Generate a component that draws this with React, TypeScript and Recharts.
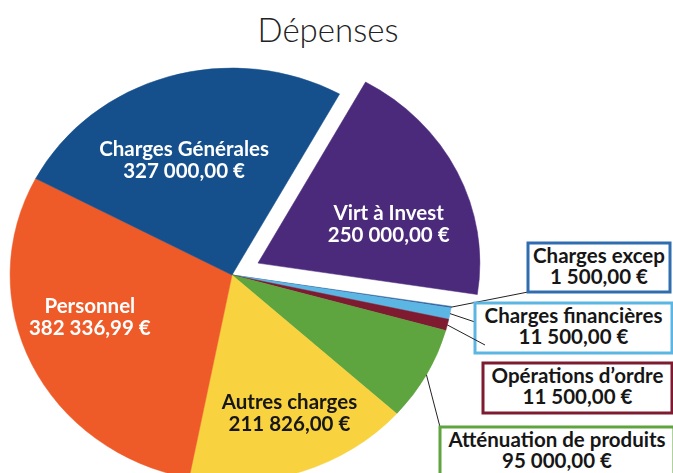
import React from 'react';
import { PieChart, Pie, Cell } from 'recharts';

const categories = [
  'Virt à Invest',
  'Charges excep',
  'Charges financières',
  'Opérations d’ordre',
  'Atténuation de produits',
  'Autres charges',
  'Personnel',
  'Charges Générales',
];
const values = [250000, 1500, 11500, 11500, 95000, 211826, 382336.99, 327000];
const colors = ['#4b2a7c', '#2d5c9a', '#5cb6e4', '#7e1b30', '#5ea43f', '#f8d23f', '#ef5a29', '#15508d'];
const boxColors = ['', '#2f6cb0', '#5cb6e4', '#7e1b30', '#5ea43f'];

const W = 673;
const H = 473;
const CX = 232;
const CY = 275;
const R = 207;
const SX = 1.072; // horizontal stretch of the reference pie
const START = 61;
const EXPLODE = 27;
const RAD = Math.PI / 180;

const fmt = (v: number) => {
  const [i, d] = v.toFixed(2).split('.');
  return i.replace(/\B(?=(\d{3})+(?!\d))/g, ' ') + ',' + d + ' €';
};

const data = categories.map((name, i) => ({ name, value: values[i] }));
const total = values.reduce((a, b) => a + b, 0);
const virtMid = START - (360 * values[0]) / total / 2;
const CX2 = CX + EXPLODE * Math.cos(virtMid * RAD);
const CY2 = CY - EXPLODE * Math.sin(virtMid * RAD);

const FONT = 'Lato, "Open Sans", sans-serif';

const inside: Record<number, { r: number; dA: number; color: string }> = {
  0: { r: 0.62, dA: -8, color: '#ffffff' },
  5: { r: 0.71, dA: 3, color: '#161616' },
  6: { r: 0.67, dA: -8.5, color: '#ffffff' },
  7: { r: 0.60, dA: 4.5, color: '#ffffff' },
};

const boxes: Record<number, { x: number; y: number; w: number; h: number; ax: number; ay: number }> = {
  1: { x: 528, y: 243, w: 142, h: 49, ax: 528, ay: 292 },
  2: { x: 475, y: 303, w: 197, h: 50, ax: 475, ay: 322 },
  3: { x: 483, y: 363, w: 189, h: 50, ax: 485, ay: 345 },
  4: { x: 440, y: 427, w: 234, h: 60, ax: 440, ay: 427 },
};

// convert pie (svg) coords to screen coords (container is scaled horizontally around CX)
const toScreenX = (x: number) => CX + SX * (x - CX);

const renderLabel = (only: number | null) => (props: any) => {
  const { cx, cy, midAngle, outerRadius, index } = props;
  if (only !== null && index !== only) return null;
  if (only === null && index === 0) return null;
  const name = categories[index];
  const val = fmt(values[index]);
  const unscale = `translate(${CX},0) scale(${1 / SX},1) translate(${-CX},0)`;
  const ins = inside[index];
  if (ins) {
    const a = (midAngle + ins.dA) * RAD;
    const x = toScreenX(cx + outerRadius * ins.r * Math.cos(a));
    const y = cy - outerRadius * ins.r * Math.sin(a);
    return (
      <g key={'l' + index} transform={unscale}>
        <text x={x} y={y - 11} textAnchor="middle" dominantBaseline="central" fill={ins.color}
          fontFamily={FONT} fontWeight={700} fontSize={20.5}>{name}</text>
        <text x={x} y={y + 11} textAnchor="middle" dominantBaseline="central" fill={ins.color}
          fontFamily={FONT} fontWeight={700} fontSize={20.5}>{val}</text>
      </g>
    );
  }
  const b = boxes[index];
  if (!b) return null;
  const sx = toScreenX(cx + outerRadius * Math.cos(midAngle * RAD));
  const sy = cy - outerRadius * Math.sin(midAngle * RAD);
  const tx = b.x + b.w / 2;
  return (
    <g key={'b' + index} transform={unscale}>
      <line x1={sx} y1={sy} x2={b.ax} y2={b.ay} stroke="#222" strokeWidth={1} />
      <rect x={b.x} y={b.y} width={b.w} height={b.h} fill="#ffffff" stroke={boxColors[index]} strokeWidth={3} />
      <text x={tx} y={b.y + 12} textAnchor="middle" dominantBaseline="central" fill="#161616"
        fontFamily={FONT} fontWeight={700} fontSize={20.5}>{name}</text>
      <text x={tx} y={b.y + 33} textAnchor="middle" dominantBaseline="central" fill="#161616"
        fontFamily={FONT} fontWeight={700} fontSize={20.5}>{val}</text>
    </g>
  );
};

export default function App() {
  return (
    <div style={{ position: 'absolute', left: 0, top: 0, width: W, height: H, background: '#fff', overflow: 'hidden' }}>
      <svg width={W} height={60} style={{ position: 'absolute', left: 0, top: 0 }}>
        <text x={328} y={42} textAnchor="middle" fontFamily={FONT} fontWeight={300} fontSize={33} fill="#222">Dépenses</text>
      </svg>
      <div style={{ position: 'absolute', left: 0, top: 0, transform: `scale(${SX},1)`, transformOrigin: `${CX}px ${CY}px` }}>
        <PieChart width={W} height={H} margin={{ top: 0, right: 0, bottom: 0, left: 0 }} style={{ overflow: 'visible' }}>
          <Pie
            data={data}
            dataKey="value"
            nameKey="name"
            cx={CX}
            cy={CY}
            outerRadius={R}
            startAngle={START}
            endAngle={START - 360}
            isAnimationActive={false}
            labelLine={false}
            label={renderLabel(null)}
          >
            {data.map((d, i) => (
              <Cell key={i} fill={i === 0 ? 'none' : colors[i]} stroke={i === 0 ? 'none' : colors[i]} strokeWidth={0.5} />
            ))}
          </Pie>
          <Pie
            data={data}
            dataKey="value"
            nameKey="name"
            cx={CX2}
            cy={CY2}
            outerRadius={R}
            startAngle={START}
            endAngle={START - 360}
            isAnimationActive={false}
            labelLine={false}
            label={renderLabel(0)}
          >
            {data.map((d, i) => (
              <Cell key={i} fill={i === 0 ? colors[i] : 'none'} stroke={i === 0 ? colors[i] : 'none'} strokeWidth={0.5} />
            ))}
          </Pie>
        </PieChart>
      </div>
    </div>
  );
}
